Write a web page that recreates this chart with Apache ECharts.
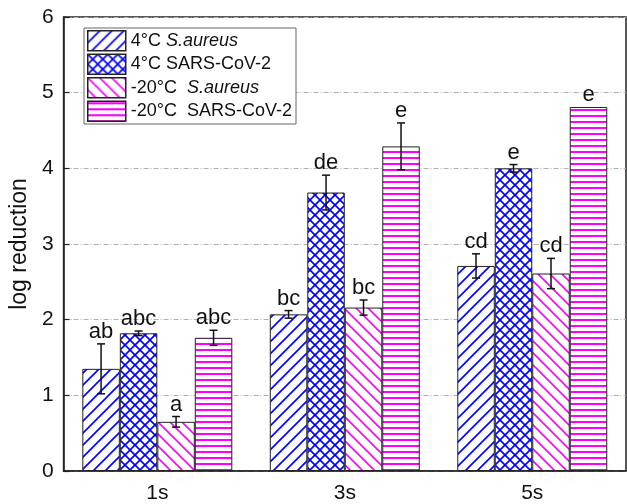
<!DOCTYPE html>
<html>
<head>
<meta charset="utf-8">
<script src="https://cdn.jsdelivr.net/npm/echarts@6/dist/echarts.min.js"></script>
<style>
  html, body { margin: 0; padding: 0; background: #fff; }
  #chart { width: 627px; height: 504px; }
</style>
</head>
<body>
<div id="chart"></div>
<script>
// Treatment times on the x axis
const categories = ['1s', '3s', '5s'];

// Mean log reduction, standard deviation and significance letters per group
const sa4 = [1.35, 2.07, 2.71];
const sa4Err = [0.33, 0.05, 0.16];
const sa4Letters = ['ab', 'bc', 'cd'];

const cov4 = [1.82, 3.68, 4.00];
const cov4Err = [0.03, 0.23, 0.05];
const cov4Letters = ['abc', 'de', 'e'];

const sa20 = [0.65, 2.16, 2.61];
const sa20Err = [0.07, 0.10, 0.20];
const sa20Letters = ['a', 'bc', 'cd'];

const cov20 = [1.76, 4.29, 4.81];
const cov20Err = [0.10, 0.31, 0];
const cov20Letters = ['abc', 'e', 'e'];

const yTicks = [0, 1, 2, 3, 4, 5, 6];

const BLUE = '#0000ff';
const MAGENTA = '#ff00ff';

// Hatch tiles used as bar fills
function tile(size, draw) {
  const c = document.createElement('canvas');
  c.width = size; c.height = size;
  const g = c.getContext('2d');
  g.fillStyle = '#fff';
  g.fillRect(0, 0, size, size);
  draw(g, size);
  return { image: c, repeat: 'repeat' };
}
function diagUp(g, s, color) {
  g.strokeStyle = color; g.lineWidth = 1.6;
  g.beginPath();
  g.moveTo(-1, s + 1); g.lineTo(s + 1, -1);
  g.moveTo(-2, 2); g.lineTo(2, -2);
  g.moveTo(s - 2, s + 2); g.lineTo(s + 2, s - 2);
  g.stroke();
}
function diagDown(g, s, color) {
  g.strokeStyle = color; g.lineWidth = 1.6;
  g.beginPath();
  g.moveTo(-1, -1); g.lineTo(s + 1, s + 1);
  g.moveTo(s - 2, -2); g.lineTo(s + 2, 2);
  g.moveTo(-2, s - 2); g.lineTo(2, s + 2);
  g.stroke();
}
const fillSa4 = tile(12, (g, s) => diagUp(g, s, BLUE));
const fillCov4 = tile(10, (g, s) => { diagUp(g, s, BLUE); diagDown(g, s, BLUE); });
const fillSa20 = tile(12, (g, s) => diagDown(g, s, MAGENTA));
const fillCov20 = tile(6, (g, s) => { g.fillStyle = MAGENTA; g.fillRect(0, 1, s, 2); });

const groups = [
  { name: '4°C {i|S.aureus}', values: sa4, err: sa4Err, letters: sa4Letters, fill: fillSa4 },
  { name: '4°C SARS-CoV-2', values: cov4, err: cov4Err, letters: cov4Letters, fill: fillCov4 },
  { name: '-20°C  {i|S.aureus}', values: sa20, err: sa20Err, letters: sa20Letters, fill: fillSa20 },
  { name: '-20°C  SARS-CoV-2', values: cov20, err: cov20Err, letters: cov20Letters, fill: fillCov20 }
];

const FONT = 'Liberation Sans, Arial, sans-serif';

const barSeries = groups.map(gr => ({
  name: gr.name,
  type: 'bar',
  data: gr.values,
  barGap: '0%',
  barCategoryGap: '20%',
  itemStyle: { color: gr.fill, borderColor: '#222', borderWidth: 1 },
  z: 2
}));

// Error bars and significance letters drawn on top of each bar
const errSeries = groups.map((gr, s) => ({
  type: 'custom',
  name: 'err' + s,
  z: 5,
  silent: true,
  data: gr.values.map((v, i) => [i, v]),
  renderItem: function (params, api) {
    const i = params.dataIndex;
    const idx = api.value(0);
    const v = api.value(1);
    const e = gr.err[i];
    const band = api.size([1, 0])[0];
    const barW = band * 0.2;
    const cx = api.coord([idx, 0])[0] + (s - 1.5) * barW;
    const top = api.coord([idx, v + e])[1];
    const bot = api.coord([idx, v - e])[1];
    const cap = 4;
    const children = [];
    if (e > 0) {
      const st = { stroke: '#111', lineWidth: 1.5 };
      children.push({ type: 'line', shape: { x1: cx, y1: top, x2: cx, y2: bot }, style: st });
      children.push({ type: 'line', shape: { x1: cx - cap, y1: top, x2: cx + cap, y2: top }, style: st });
      children.push({ type: 'line', shape: { x1: cx - cap, y1: bot, x2: cx + cap, y2: bot }, style: st });
    }
    children.push({
      type: 'text',
      style: {
        x: cx, y: top - 1,
        text: gr.letters[i],
        fill: '#111',
        font: '22px ' + FONT,
        textAlign: 'center',
        textVerticalAlign: 'bottom'
      }
    });
    return { type: 'group', children: children };
  }
}));

const chart = echarts.init(document.getElementById('chart'), null, { renderer: 'canvas' });
chart.setOption({
  animation: false,
  backgroundColor: '#fff',
  textStyle: { fontFamily: FONT },
  grid: {
    left: 62, right: 1, top: 17, bottom: 31,
    show: true, borderColor: '#222', borderWidth: 1.5, backgroundColor: 'transparent'
  },
  legend: {
    data: groups.map(g => g.name),
    orient: 'vertical',
    left: 84, top: 28,
    padding: [2, 4, 2, 3],
    itemWidth: 38, itemHeight: 20, itemGap: 2,
    icon: 'rect',
    backgroundColor: '#fff',
    borderColor: '#666', borderWidth: 1,
    textStyle: {
      fontSize: 18, color: '#111', fontFamily: FONT, lineHeight: 20,
      rich: { i: { fontStyle: 'italic', fontSize: 18, fontFamily: FONT, color: '#111', lineHeight: 20 } }
    },
    itemStyle: { borderColor: '#222', borderWidth: 1.5 }
  },
  xAxis: {
    type: 'category',
    data: categories,
    axisLine: { lineStyle: { color: '#222', width: 1.5 } },
    axisTick: { alignWithLabel: true, length: 7, lineStyle: { color: '#222', width: 1.5 } },
    axisLabel: { fontSize: 21, color: '#111', margin: 12 },
    splitLine: { show: false }
  },
  yAxis: {
    type: 'value',
    min: yTicks[0], max: yTicks[yTicks.length - 1], interval: 1,
    name: 'log reduction',
    nameLocation: 'middle',
    nameGap: 27,
    nameTextStyle: { fontSize: 23, color: '#111' },
    axisLine: { show: true, lineStyle: { color: '#222', width: 1.5 } },
    axisTick: { show: true, inside: true, length: 6, lineStyle: { color: '#222', width: 1.2 } },
    axisLabel: { fontSize: 21, color: '#111', margin: 10 },
    splitLine: { show: true, lineStyle: { color: '#b0b0b0', width: 1, type: [5, 2, 1, 2] } }
  },
  series: barSeries.concat(errSeries)
});
</script>
</body>
</html>
